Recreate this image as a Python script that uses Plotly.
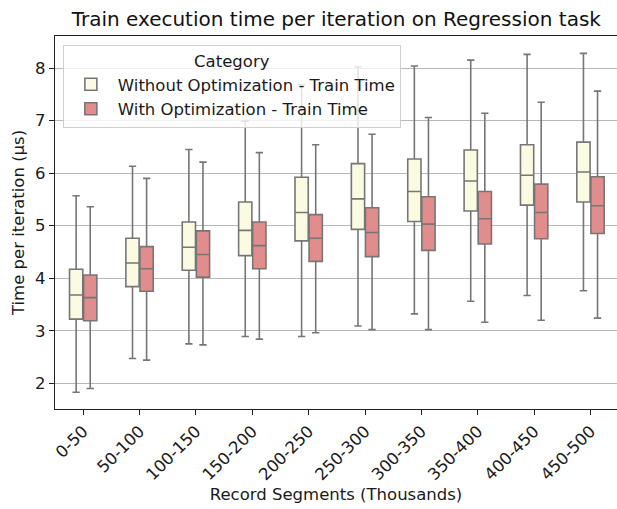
import plotly.graph_objects as go

segments = ["0-50", "50-100", "100-150", "150-200", "200-250",
            "250-300", "300-350", "350-400", "400-450", "450-500"]

# Box statistics, time per iteration in microseconds
without_low = [1.83, 2.47, 2.75, 2.89, 2.89, 3.09, 3.32, 3.56, 3.67, 3.76]
without_q1 = [3.22, 3.84, 4.15, 4.43, 4.71, 4.93, 5.08, 5.28, 5.39, 5.45]
without_med = [3.68, 4.29, 4.59, 4.91, 5.25, 5.51, 5.65, 5.85, 5.96, 6.02]
without_q3 = [4.17, 4.76, 5.07, 5.45, 5.92, 6.18, 6.27, 6.44, 6.54, 6.59]
without_high = [5.57, 6.13, 6.45, 6.99, 7.68, 8.02, 8.04, 8.15, 8.26, 8.28]

with_low = [1.90, 2.44, 2.73, 2.84, 2.96, 3.02, 3.02, 3.16, 3.20, 3.24]
with_q1 = [3.19, 3.75, 4.02, 4.18, 4.32, 4.41, 4.53, 4.65, 4.75, 4.85]
with_med = [3.63, 4.18, 4.45, 4.62, 4.76, 4.87, 5.03, 5.13, 5.25, 5.38]
with_q3 = [4.06, 4.60, 4.90, 5.07, 5.21, 5.34, 5.55, 5.65, 5.79, 5.93]
with_high = [5.36, 5.90, 6.21, 6.39, 6.54, 6.74, 7.06, 7.14, 7.35, 7.56]

FONT = "DejaVu Sans, Verdana, sans-serif"
EDGE = "#767676"
TXT = 16.5

fig = go.Figure()
fig.add_trace(go.Box(
    name="Without Optimization - Train Time",
    x=segments, q1=without_q1, median=without_med, q3=without_q3,
    lowerfence=without_low, upperfence=without_high,
    fillcolor="#FBFBE3", line=dict(color=EDGE, width=1.6),
    whiskerwidth=0.55, boxpoints=False,
))
fig.add_trace(go.Box(
    name="With Optimization - Train Time",
    x=segments, q1=with_q1, median=with_med, q3=with_q3,
    lowerfence=with_low, upperfence=with_high,
    fillcolor="#E28D8D", line=dict(color=EDGE, width=1.6),
    whiskerwidth=0.55, boxpoints=False,
))

fig.update_layout(
    width=617, height=509,
    margin=dict(l=55, r=0, t=36, b=100),
    paper_bgcolor="white", plot_bgcolor="white",
    font=dict(family=FONT, size=TXT, color="#1a1a1a"),
    boxmode="group", boxgap=0.5, boxgroupgap=0.06,
    title=dict(text="Train execution time per iteration on Regression task",
               x=0.545, xanchor="center", y=0.963, yanchor="middle",
               font=dict(size=20, family=FONT, color="#111")),
    legend=dict(
        title=dict(text="Category", side="top center",
                   font=dict(size=TXT, family=FONT)),
        x=0.014, y=0.977, xanchor="left", yanchor="top",
        bgcolor="rgba(255,255,255,0.8)", bordercolor="#d0d0d0", borderwidth=1,
        font=dict(size=TXT, family=FONT), itemwidth=44, tracegroupgap=0,
    ),
    xaxis=dict(
        type="category", range=[-0.5, 9.47],
        title=dict(text="Record Segments (Thousands)", standoff=5,
                   font=dict(size=TXT, family=FONT)),
        tickangle=-45, ticks="outside", ticklen=5, tickcolor="#222",
        showline=True, linecolor="#222", linewidth=1.2, mirror=True,
        showgrid=False, tickfont=dict(size=TXT, family=FONT),
    ),
    yaxis=dict(
        range=[1.51, 8.61], tickvals=[2, 3, 4, 5, 6, 7, 8],
        title=dict(text="Time per iteration (μs)", standoff=6,
                   font=dict(size=TXT, family=FONT)),
        ticks="outside", ticklen=5, tickcolor="#222",
        showline=True, linecolor="#222", linewidth=1.2,
        showgrid=True, gridcolor="#b8b8b8", gridwidth=1, zeroline=False,
        tickfont=dict(size=TXT, family=FONT),
    ),
)

fig.write_html("out.html")
